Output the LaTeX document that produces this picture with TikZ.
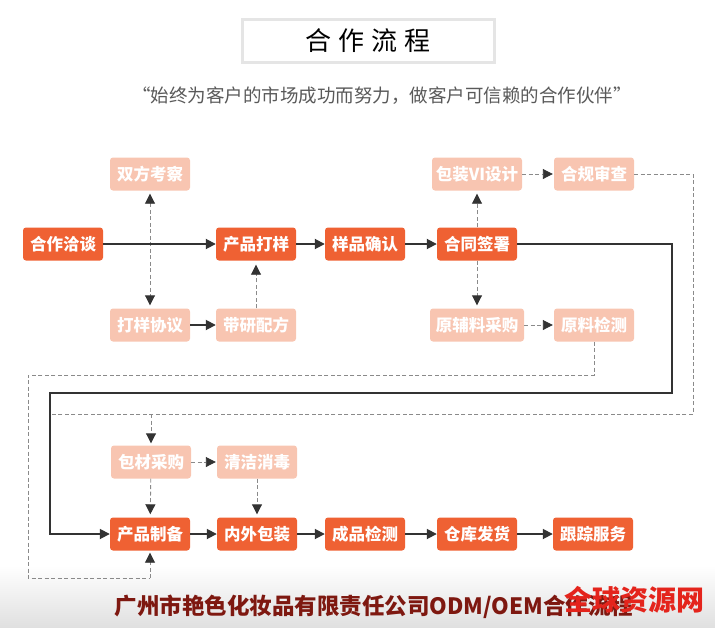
\documentclass[tikz,border=0pt]{standalone}
\usepackage{fontspec}
\setmainfont{Noto Sans CJK SC}
\usetikzlibrary{arrows.meta}
\definecolor{dk}{HTML}{EF6133}
\definecolor{lt}{HTML}{F8C5B1}
\definecolor{ln}{HTML}{333333}
\definecolor{dl}{HTML}{8A8A8A}
\definecolor{brand}{HTML}{7E1810}
\definecolor{wm}{HTML}{E4241C}
\begin{document}
\begin{tikzpicture}[x=1pt,y=-1pt,
  box/.style={rounded corners=3pt, minimum width=80pt, minimum height=33pt, inner sep=0pt, text=white, font=\fontsize{16.5}{16.5}\selectfont\bfseries},
  dkbox/.style={box, fill=dk},
  ltbox/.style={box, fill=lt},
  solidline/.style={draw=ln, line width=1.8pt},
  solidarrow/.style={solidline, -{Triangle[length=10pt,width=10pt]}},
  dashline/.style={draw=dl, line width=0.9pt, dash pattern=on 4pt off 2.5pt},
  dasharrow/.style={dashline, -{Triangle[length=10pt,width=10pt,color=ln]}},
  dashboth/.style={dashline, {Triangle[length=10pt,width=10pt,color=ln]}-{Triangle[length=10pt,width=10pt,color=ln]}}
]
\useasboundingbox (0,0) rectangle (715,627);
\shade[top color=white, bottom color=black!12] (0,565) rectangle (715,627);

% title
\node[draw=black!10, line width=3pt, minimum width=252pt, minimum height=43pt, font=\fontsize{26}{26}\selectfont] (title) at (368,41) {合\hspace{7pt}作\hspace{7pt}流\hspace{7pt}程};
\node[text=black!65, font=\fontsize{18.5}{18.5}\selectfont] (quote) at (382,96) {“始终为客户的市场成功而努力，做客户可信赖的合作伙伴”};

% nodes
\node[dkbox] (hz) at (63,244) {合作洽谈};
\node[dkbox] (cp) at (256,244) {产品打样};
\node[dkbox] (yp) at (365,244) {样品确认};
\node[dkbox] (ht) at (477,244) {合同签署};
\node[ltbox] (sf) at (150,174) {双方考察};
\node[ltbox, minimum width=90pt] (bz) at (477,174) {包装VI设计};
\node[ltbox] (hg) at (594,174) {合规审查};
\node[ltbox] (dy) at (150,325) {打样协议};
\node[ltbox] (dp) at (256,325) {带研配方};
\node[ltbox, minimum width=94pt] (yf) at (477,325) {原辅料采购};
\node[ltbox] (yj) at (594,325) {原料检测};
\node[ltbox] (bc) at (151,462) {包材采购};
\node[ltbox] (qj) at (257,462) {清洁消毒};
\node[dkbox] (zb) at (150,534) {产品制备};
\node[dkbox] (nw) at (257,534) {内外包装};
\node[dkbox] (cj) at (365,534) {成品检测};
\node[dkbox] (ck) at (477,534) {仓库发货};
\node[dkbox] (gz) at (593,534) {跟踪服务};

% coordinates
\coordinate (r1) at (672,244);
\coordinate (r2) at (672,393);
\coordinate (l1) at (50,393);
\coordinate (l2) at (50,534);
\coordinate (a1) at (693,174);
\coordinate (a2) at (693,414);
\coordinate (a3) at (50,414);
\coordinate (a4) at (151,414);
\coordinate (b1) at (594,375);
\coordinate (b2) at (28,375);
\coordinate (b3) at (28,578);
\coordinate (b4) at (150,578);

% dashed connectors
\draw[dashline] (hg.east) -- (a1) -- (a2) -- (a3);
\draw[dasharrow, shorten >=2pt] (a4) -- (bc.north);
\draw[dashline] (yj.south) -- (b1) -- (b2) -- (b3) -- (b4);
\draw[dasharrow, shorten >=2pt] (b4) -- (zb.south);
\draw[dashboth, shorten <=3pt, shorten >=3pt] (sf) -- (dy);
\draw[dasharrow, shorten >=4pt] (dp) -- (cp);
\draw[dasharrow, shorten >=3pt] (ht) -- (bz);
\draw[dasharrow, shorten >=3pt] (ht) -- (yf);
\draw[dasharrow, shorten >=1pt] (bz) -- (hg);
\draw[dasharrow, shorten >=1pt] (yf) -- (yj);
\draw[dasharrow, shorten >=1pt] (bc) -- (qj);
\draw[dasharrow, shorten >=3pt] (bc) -- (zb);
\draw[dasharrow, shorten >=3pt] (qj) -- (nw);

% solid connectors
\draw[solidarrow] (hz) -- (cp);
\draw[solidarrow] (cp) -- (yp);
\draw[solidarrow] (yp) -- (ht);
\draw[solidarrow] (dy) -- (dp);
\draw[solidarrow] (ht.east) -- (r1) -- (r2) -- (l1) -- (l2) -- (zb.west);
\draw[solidarrow] (zb) -- (nw);
\draw[solidarrow] (nw) -- (cj);
\draw[solidarrow] (cj) -- (ck);
\draw[solidarrow] (ck) -- (gz);

% bottom texts
\node[text=brand, font=\fontsize{22.5}{22.5}\selectfont\bfseries] (brandtext) at (374,607) {广州市艳色化妆品有限责任公司ODM/OEM合作流程};
\node[text=wm, font=\fontsize{28}{28}\selectfont\bfseries] (wmark) at (634,600) {全球资源网};
\end{tikzpicture}
\end{document}
